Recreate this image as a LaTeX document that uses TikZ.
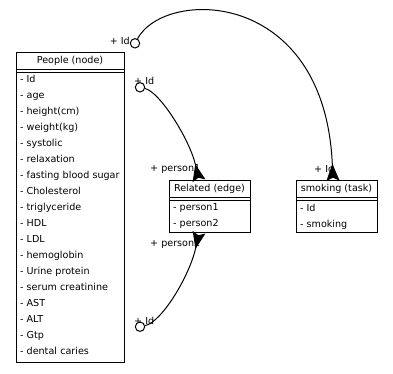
\documentclass[tikz,border=0pt]{standalone}
\usepackage{fontspec}
\setmainfont{DejaVu Sans}
\usepackage{tikz}
\usetikzlibrary{arrows.meta, positioning}
\newcommand{\attrfont}{\fontsize{9.6}{16}\selectfont}

\begin{document}
\begin{tikzpicture}[x=1pt, y=-1pt,
  classhead/.style={draw, line width=1pt, outer sep=0pt, inner sep=0pt,
                    minimum width=108pt, minimum height=17pt, font=\attrfont},
  classbody/.style={draw, line width=1pt, outer sep=0pt, inner xsep=4pt,
                    inner ysep=3.5pt, align=left, anchor=north, font=\attrfont},
  keycirc/.style={circle, draw, line width=1pt, fill=white, minimum size=9.4pt, inner sep=0pt},
  rolelabel/.style={font=\attrfont, inner sep=0pt, anchor=west},
  manyend/.style={-{Stealth[reversed, length=17pt, width=13pt, inset=3pt]}, line width=1pt}
]
  \useasboundingbox (0,0) rectangle (393,373);

  % entity boxes
  \node[classhead] (peoplehead) at (70,60.5) {People (node)};
  \node[classbody, text width=100pt] (peoplebody) at (70,72)
    {- Id\\- age\\- height(cm)\\- weight(kg)\\- systolic\\- relaxation\\
     - fasting blood sugar\\- Cholesterol\\- triglyceride\\- HDL\\- LDL\\
     - hemoglobin\\- Urine protein\\- serum creatinine\\- AST\\- ALT\\- Gtp\\
     - dental caries\rule[-3.7pt]{0pt}{3.7pt}};

  \node[classhead, minimum width=81pt] (relhead) at (209.5,189.2) {Related (edge)};
  \node[classbody, text width=73pt] (relbody) at (209.5,200.3) {- person1\\- person2};

  \node[classhead, minimum width=81pt] (smokehead) at (336.5,189.2) {smoking (task)};
  \node[classbody, text width=73pt] (smokebody) at (336.5,200.3) {- Id\\- smoking};

  % double separator sides
  \foreach \ent in {people, rel, smoke} {
    \draw[line width=1pt] (\ent head.south west) -- (\ent body.north west);
    \draw[line width=1pt] (\ent head.south east) -- (\ent body.north east);
  }

  % role labels
  \node[rolelabel, anchor=east] (lblid1) at (130,41) {+ Id};
  \node[rolelabel] (lblid2) at (134,81) {+ Id};
  \node[rolelabel] (lblid3) at (134,321) {+ Id};
  \node[rolelabel] (lblperson1) at (150,169) {+ person1};
  \node[rolelabel] (lblperson2) at (150,244) {+ person2};
  \node[rolelabel] (lblid4) at (314,169) {+ Id};

  % key ends
  \node[keycirc] (idcirc1) at (135,43.3) {};
  \node[keycirc] (idcirc2) at (140,87.3) {};
  \node[keycirc] (idcirc3) at (140,326.7) {};

  % relations
  \draw[manyend] (idcirc1) .. controls (165,-12) and (325,-12) .. ([xshift=-3.5pt]smokehead.north);
  \draw[manyend] (idcirc2) .. controls (160,92) and (190,140) .. ([xshift=-10.5pt]relhead.north);
  \draw[manyend] (idcirc3) .. controls (162,322) and (190,275) .. ([xshift=-10.5pt]relbody.south);
\end{tikzpicture}
\end{document}
